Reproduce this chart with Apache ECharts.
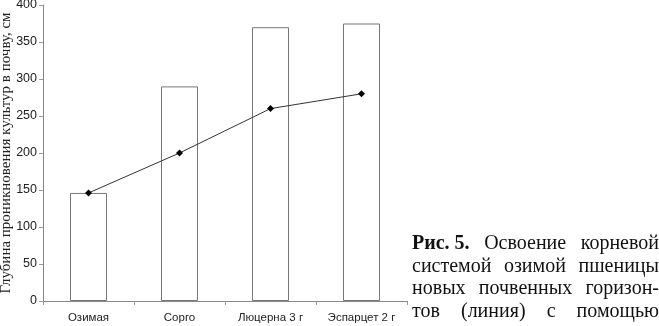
<!DOCTYPE html>
<html><head><meta charset="utf-8">
<script src="https://cdn.jsdelivr.net/npm/echarts@6/dist/echarts.min.js"></script>
<style>html,body{margin:0;padding:0;background:#fff}#c{width:659px;height:326px}</style>
</head><body><div id="c"></div>
<script>
const categories = ['Озимая', 'Сорго', 'Люцерна 3 г', 'Эспарцет 2 г'];
const barValues = [146, 290, 370, 375];
const lineValues = [146, 200, 260, 280];
const yTicks = [0, 50, 100, 150, 200, 250, 300, 350, 400];
const yTitle = 'Глубина проникновения культур в почву, см';
const captionLines = [
  [{t:'Рис. 5.', b:true}, {t:'Освоение'}, {t:'корневой'}],
  [{t:'системой'}, {t:'озимой'}, {t:'пшеницы'}],
  [{t:'новых'}, {t:'почвенных'}, {t:'горизон-'}],
  [{t:'тов'}, {t:'(линия)'}, {t:'с'}, {t:'помощью'}]
];

const chart = echarts.init(document.getElementById('c'));
const serif = '"Liberation Serif", "DejaVu Serif", serif';
const sans = '"Liberation Sans", Arial, sans-serif';

const cv = document.createElement('canvas').getContext('2d');
const capSize = 20, capLeft = 412, capRight = 659, capY0 = 245, capDy = 22.5;
const graphics = [];
captionLines.forEach((words, li) => {
  const widths = words.map(w => { cv.font = (w.b ? 'bold ' : '') + capSize + 'px ' + serif; return cv.measureText(w.t).width; });
  const total = widths.reduce((a, b) => a + b, 0);
  const gap = (capRight - capLeft - total) / (words.length - 1);
  let x = capLeft;
  words.forEach((w, i) => {
    graphics.push({type:'text', left: x, top: capY0 + li * capDy - capSize/2 - 1,
      style:{text: w.t, font: (w.b ? 'bold ' : '') + capSize + 'px ' + serif, fill:'#111'}});
    x += widths[i] + gap;
  });
});

chart.setOption({
  animation: false,
  grid: {left: 43, top: 5, width: 364, height: 296, containLabel: false, outerBoundsMode: 'none'},
  xAxis: {
    type: 'category', data: categories,
    axisLine: {lineStyle: {color: '#888', width: 1}},
    axisTick: {show: true, length: 4, lineStyle: {color: '#999'}},
    axisLabel: {color: '#222', fontFamily: sans, fontSize: 11.5, margin: 11}
  },
  yAxis: {
    type: 'value', min: yTicks[0], max: yTicks[yTicks.length-1], interval: 50,
    splitLine: {show: false},
    axisLine: {show: true, lineStyle: {color: '#888', width: 1}},
    axisTick: {show: true, length: 4, lineStyle: {color: '#999'}},
    axisLabel: {color: '#222', fontFamily: sans, fontSize: 12.5, margin: 6},
    name: yTitle, nameLocation: 'middle', nameGap: 29, nameMoveOverlap: false,
    nameTextStyle: {fontFamily: serif, fontSize: 15, color: '#222'}
  },
  series: [
    {type: 'bar', data: barValues, barWidth: 37,
     itemStyle: {color: '#fff', borderColor: '#777', borderWidth: 1}},
    {type: 'line', data: lineValues, symbol: 'diamond', symbolSize: 7,
     itemStyle: {color: '#000'}, lineStyle: {color: '#333', width: 1}}
  ],
  graphic: graphics
});
</script></body></html>
